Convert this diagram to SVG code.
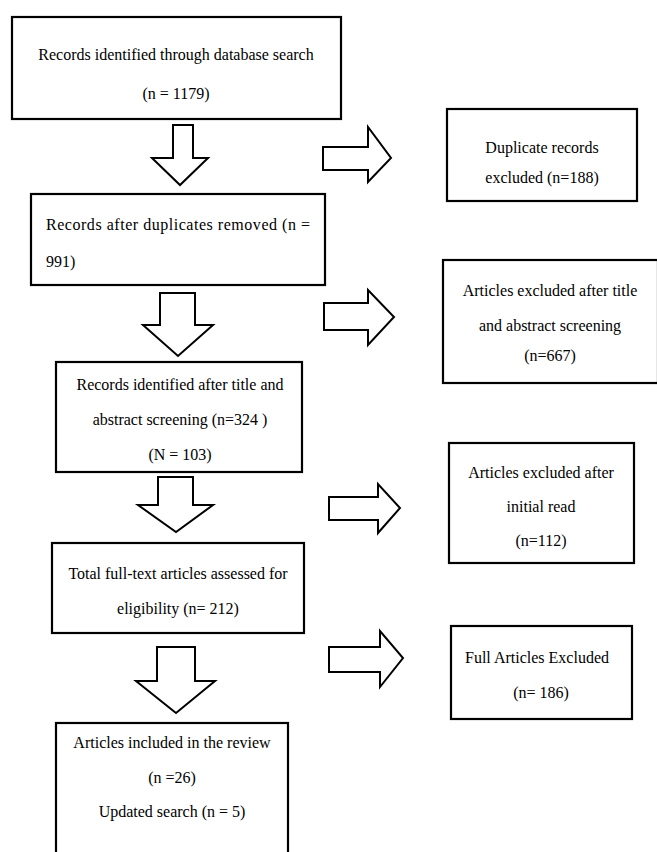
<svg xmlns="http://www.w3.org/2000/svg" width="657" height="852" viewBox="0 0 657 852">
<style>
.box{fill:#fff;stroke:#000;stroke-width:2.2}
.arr{fill:#fff;stroke:#000;stroke-width:2;stroke-linejoin:miter}
.t{font-family:'Liberation Serif','DejaVu Serif',serif;font-size:16px;fill:#000}
.c{text-anchor:middle}
</style>
<rect width="657" height="852" fill="#fff"/>
<g id="connectors">
<polygon class="arr" points="173,125 193,125 193,158 208,158 180,185 152,158 173,158"/>
<polygon class="arr" points="160,293 195,293 195,325 213,325 178,356 143,325 160,325"/>
<polygon class="arr" points="158,477 193,477 193,505 213,505 176,532 138,505 158,505"/>
<polygon class="arr" points="157,647 195,647 195,681 215,681 176,713 136,681 157,681"/>
<polygon class="arr" points="323,147 368,147 368,127 391,158 368,182 368,170 323,170"/>
<polygon class="arr" points="324,303 368,303 368,290 394,317 368,345 368,330 324,330"/>
<polygon class="arr" points="329,497 378,497 378,484 400,508 378,533 378,520 329,520"/>
<polygon class="arr" points="329,647 380,647 380,631 403,658 380,687 380,672 329,672"/>
</g>
<g class="t" font-family="Liberation Serif, DejaVu Serif, serif">
<g id="n1">
<rect class="box" x="12" y="17" width="329" height="102"/>
<text class="c" x="176" y="60">Records identified through database search</text>
<text class="c" x="176" y="99">(n = 1179)</text>
</g>
<g id="n2">
<rect class="box" x="31" y="194" width="294" height="91"/>
<text x="46" y="230" textLength="264" lengthAdjust="spacing">Records after duplicates removed (n =</text>
<text x="46" y="267">991)</text>
</g>
<g id="n3">
<rect class="box" x="56" y="362" width="246" height="110"/>
<text class="c" x="180" y="390">Records identified after title and</text>
<text class="c" x="180" y="425">abstract screening (n=324 )</text>
<text class="c" x="180" y="460">(N = 103)</text>
</g>
<g id="n4">
<rect class="box" x="52" y="543" width="252" height="90"/>
<text class="c" x="178" y="579">Total full-text articles assessed for</text>
<text class="c" x="178" y="614">eligibility (n= 212)</text>
</g>
<g id="n5">
<rect class="box" x="56" y="723" width="232" height="140"/>
<text class="c" x="172" y="748">Articles included in the review</text>
<text class="c" x="172" y="783">(n =26)</text>
<text class="c" x="172" y="817">Updated search (n = 5)</text>
</g>
<g id="r1">
<rect class="box" x="447" y="109" width="190" height="92"/>
<text class="c" x="542" y="153">Duplicate records</text>
<text class="c" x="542" y="183">excluded (n=188)</text>
</g>
<g id="r2">
<rect class="box" x="443" y="260" width="215" height="123"/>
<text class="c" x="550" y="296">Articles excluded after title</text>
<text class="c" x="550" y="331">and abstract screening</text>
<text class="c" x="550" y="361">(n=667)</text>
</g>
<g id="r3">
<rect class="box" x="449" y="443" width="185" height="120"/>
<text class="c" x="541" y="478">Articles excluded after</text>
<text class="c" x="541" y="512">initial read</text>
<text class="c" x="541" y="546">(n=112)</text>
</g>
<g id="r4">
<rect class="box" x="451" y="626" width="181" height="93"/>
<text class="c" x="537" y="663">Full Articles Excluded</text>
<text class="c" x="541" y="698">(n= 186)</text>
</g>
</g>
</svg>
